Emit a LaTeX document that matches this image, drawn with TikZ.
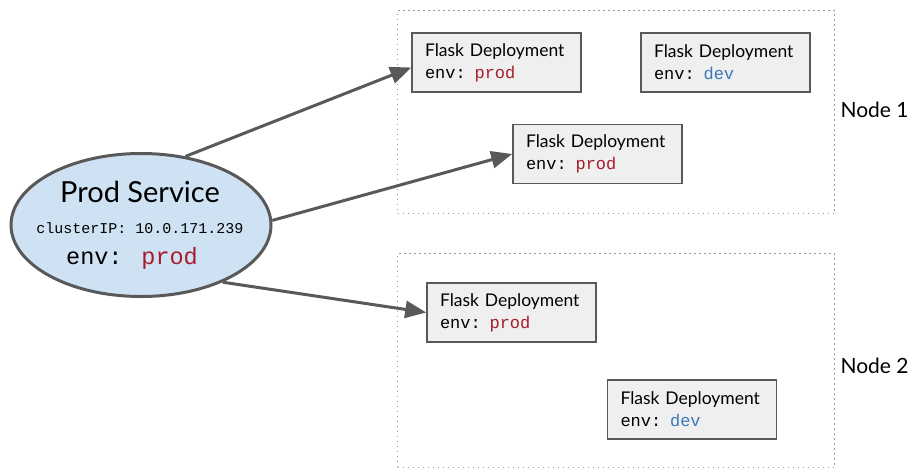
\documentclass[tikz,border=0pt]{standalone}
\usepackage{fontspec}
\setmainfont{Lato}
\newfontfamily\codefont{Liberation Mono}
\usetikzlibrary{shapes.geometric,arrows.meta}
\definecolor{prodred}{HTML}{A61C2A}
\definecolor{devblue}{HTML}{3D78B8}
\definecolor{linegray}{HTML}{595959}
\definecolor{boxfill}{HTML}{EFEFEF}
\definecolor{ellfill}{HTML}{CFE2F3}
\definecolor{dotgray}{HTML}{9A9A9A}
\tikzset{
  hostbox/.style={draw=dotgray, line width=1.1pt, dash pattern=on 1.1pt off 3.9pt},
  deploy/.style={draw=linegray, line width=1.6pt, fill=boxfill, minimum width=169pt, minimum height=59pt,
    align=left, text width=143pt, inner xsep=13pt, font=\fontsize{17.5}{22}\selectfont},
  conn/.style={draw=linegray, line width=3pt, -{Triangle[length=21pt,width=17pt]}},
  hostlabel/.style={font=\fontsize{21}{24}\selectfont, anchor=west},
  svctext/.style={inner sep=0}
}
\newcommand{\prodenv}{{\codefont\fontsize{17}{22}\selectfont env: \textcolor{prodred}{prod}}}
\newcommand{\devenv}{{\codefont\fontsize{17}{22}\selectfont env: \textcolor{devblue}{dev}}}
\begin{document}
\begin{tikzpicture}[x=1pt,y=-1pt]
\useasboundingbox (0,0) rectangle (912,469);
% host boxes
\node[hostbox, minimum width=437pt, minimum height=203pt, inner sep=0, anchor=north west] (host1) at (397,10) {};
\node[hostbox, minimum width=437pt, minimum height=214pt, inner sep=0, anchor=north west] (host2) at (397,253) {};
\node[hostlabel] (lab1) at (837,110) {Node 1};
\node[hostlabel] (lab2) at (837,366) {Node 2};
% deployments
\node[deploy] (a) at (496.5,62.5) {Flask Deployment\\\prodenv};
\node[deploy] (b) at (725.5,62.5) {Flask Deployment\\\devenv};
\node[deploy] (c) at (597.5,154) {Flask Deployment\\\prodenv};
\node[deploy] (d) at (511.5,312.5) {Flask Deployment\\\prodenv};
\node[deploy] (e) at (692,409.5) {Flask Deployment\\\devenv};
% service
\node[ellipse, draw=linegray, line width=3pt, fill=ellfill, minimum width=260pt, minimum height=143pt, inner sep=0] (svc) at (141,225) {};
\node[svctext, font=\fontsize{29}{32}\selectfont] (svcname) at (140,192) {Prod Service};
\node[svctext, font=\codefont\fontsize{15}{18}\selectfont] (svcip) at (140,228) {clusterIP: 10.0.171.239};
\node[svctext, font=\codefont\fontsize{23.5}{28}\selectfont] (svcenv) at (132,258) {env: \textcolor{prodred}{prod}};
% connectors
\draw[conn] (svc.57) -- ([yshift=-5pt]a.west);
\draw[conn] (svc.2) -- (c.west);
\draw[conn] (svc.-35) -- (d.west);
\end{tikzpicture}
\end{document}
